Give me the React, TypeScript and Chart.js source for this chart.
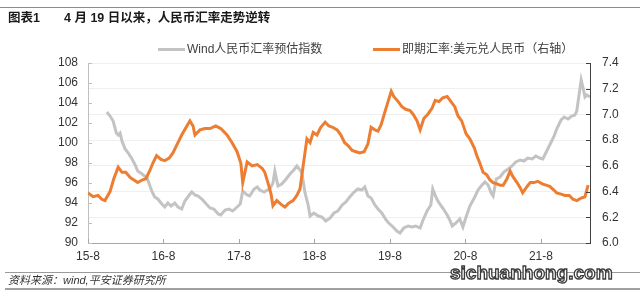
import React, { useEffect, useRef } from "react";
import { Chart, registerables } from "chart.js";

Chart.register(...registerables);

// months since Aug 2015
const xTickValues = [0, 12, 24, 36, 48, 60, 72];
const xTickLabels = ["15-8", "16-8", "17-8", "18-8", "19-8", "20-8", "21-8"];

const indexMonths = [
  3.0, 3.5, 4.0, 4.5, 4.8, 5.1, 5.4, 5.9, 6.4, 7.0,
  7.5, 7.9, 8.6, 9.4, 9.9, 10.2, 10.6, 11.1, 11.6, 12.2,
  12.7, 13.2, 13.8, 14.3, 14.9, 15.4, 16.1, 16.5, 17.0, 17.5,
  18.1, 18.8, 19.4, 20.0, 20.7, 21.1, 21.8, 22.4, 23.0, 23.7,
  24.2, 24.6, 25.3, 25.7, 26.4, 26.9, 27.3, 28.0, 28.5, 28.9,
  29.4, 29.7, 30.2, 30.8, 31.5, 32.1, 32.7, 33.2, 33.7, 34.0,
  34.5, 35.0, 35.3, 35.9, 36.6, 37.2, 37.8, 38.5, 39.1, 39.7,
  40.4, 41.0, 41.6, 42.3, 42.9, 43.5, 44.0, 44.5, 45.0, 45.6,
  46.1, 46.7, 47.4, 47.8, 48.5, 49.1, 49.6, 50.2, 50.9, 51.5,
  52.1, 52.8, 53.2, 53.9, 54.5, 54.8, 55.3, 55.8, 56.4, 57.1,
  57.5, 57.9, 58.5, 59.1, 59.6, 60.1, 60.7, 61.4, 62.0, 62.5,
  63.1, 63.6, 64.1, 64.4, 64.9, 65.5, 66.1, 66.8, 67.4, 68.0,
  68.7, 69.3, 69.9, 70.6, 71.2, 71.8, 72.3, 73.0, 73.4, 74.1,
  74.5, 75.2, 75.7, 76.3, 76.9, 77.4, 77.7, 78.1, 78.4, 78.7,
  79.0, 79.3, 79.8,
];
const indexValues = [
  103.1, 102.7, 102.2, 101.0, 100.8, 101.0, 100.2, 99.4, 99.0, 98.4,
  97.8, 97.2, 96.9, 96.5, 95.6, 95.1, 94.6, 94.4, 94.0, 93.6,
  94.0, 93.7, 94.0, 93.6, 93.4, 94.2, 94.8, 95.1, 94.8, 94.7,
  94.4, 93.9, 93.5, 93.4, 92.9, 92.8, 93.3, 93.4, 93.2, 93.6,
  93.9, 95.2, 94.8, 94.7, 95.4, 95.6, 95.3, 95.1, 95.3, 95.4,
  96.0, 97.2, 95.7, 95.9, 96.4, 96.9, 97.3, 97.7, 97.3, 97.0,
  95.0, 93.8, 92.7, 93.0, 92.7, 92.6, 92.2, 92.5, 93.0, 93.2,
  93.8, 94.1, 94.6, 95.1, 95.4, 95.3, 95.6, 94.7, 94.5, 93.8,
  93.4, 93.0, 92.3, 92.0, 91.6, 91.2, 91.0, 91.5, 91.7, 91.6,
  91.7, 91.5, 92.2, 93.2, 93.8, 95.4, 94.6, 94.0, 93.5, 92.8,
  92.3, 91.7, 92.0, 92.4, 91.6, 92.6, 93.7, 94.5, 95.3, 95.7,
  96.1, 95.8, 95.0, 94.7, 96.4, 96.6, 97.1, 97.4, 97.7, 98.1,
  98.3, 98.2, 98.5, 98.4, 98.7, 98.5, 98.4, 99.3, 99.8, 100.7,
  101.4, 102.3, 102.6, 102.4, 102.7, 102.8, 103.2, 105.0, 106.3, 105.5,
  104.6, 104.8, 104.6,
];

const spotMonths = [
  0, 0.8, 1.6, 2.2, 2.7, 3.5, 4.1, 4.8, 5.4, 6.0,
  6.7, 7.3, 7.9, 8.6, 9.2, 9.8, 10.3, 10.9, 11.6, 12.2,
  12.9, 13.5, 14.3, 14.9, 15.6, 16.2, 16.7, 17.0, 17.8, 18.6,
  19.4, 20.3, 21.1, 22.1, 22.9, 23.7, 24.3, 24.6, 25.3, 26.1,
  26.9, 27.7, 28.1, 28.6, 29.1, 29.4, 30.0, 30.7, 31.3, 31.9,
  32.6, 33.2, 33.7, 34.2, 34.8, 35.3, 35.8, 36.4, 37.0, 37.7,
  38.3, 38.9, 39.6, 40.2, 40.8, 41.3, 42.0, 42.6, 43.2, 43.9,
  44.5, 45.0, 45.6, 46.1, 46.6, 47.2, 47.7, 48.2, 48.6, 49.3,
  49.9, 50.5, 51.2, 51.7, 52.3, 52.8, 53.4, 54.0, 54.7, 55.2,
  55.8, 56.4, 57.1, 57.7, 58.3, 58.8, 59.4, 60.1, 60.7, 61.4,
  61.8, 62.3, 62.8, 63.4, 63.9, 64.4, 65.0, 65.5, 66.0, 66.6,
  67.1, 67.5, 68.2, 68.7, 69.1, 69.8, 70.3, 70.9, 71.5, 72.2,
  72.8, 73.4, 74.1, 74.5, 75.2, 75.8, 76.5, 77.1, 77.7, 78.4,
  79.0, 79.5,
];
const spotRates = [
  6.39, 6.36, 6.37, 6.34, 6.33, 6.40, 6.50, 6.59, 6.55, 6.55,
  6.51, 6.49, 6.47, 6.49, 6.50, 6.56, 6.62, 6.68, 6.65, 6.64,
  6.66, 6.70, 6.78, 6.84, 6.90, 6.95, 6.91, 6.84, 6.88, 6.89,
  6.89, 6.91, 6.89, 6.84, 6.78, 6.71, 6.62, 6.47, 6.63, 6.60,
  6.61, 6.58, 6.55, 6.47, 6.38, 6.29, 6.33, 6.30, 6.28, 6.31,
  6.33, 6.37, 6.42, 6.60, 6.81, 6.78, 6.86, 6.84, 6.90, 6.94,
  6.91, 6.90, 6.88, 6.84, 6.78, 6.76, 6.72, 6.71, 6.70, 6.71,
  6.77, 6.90, 6.88, 6.87, 6.92, 7.02, 7.10, 7.18, 7.14, 7.10,
  7.06, 7.04, 7.03, 7.00, 6.95, 6.88, 6.97, 7.00, 7.05, 7.11,
  7.10, 7.13, 7.14, 7.10, 7.06, 6.99, 6.95, 6.85, 6.81, 6.74,
  6.68, 6.62, 6.55, 6.53, 6.49, 6.47, 6.46, 6.45, 6.45, 6.50,
  6.56, 6.52, 6.47, 6.43, 6.39, 6.44, 6.47, 6.47, 6.48, 6.46,
  6.45, 6.44, 6.41, 6.39, 6.38, 6.37, 6.37, 6.34, 6.33, 6.35,
  6.36, 6.45,
];

const indexLabel = "Wind人民币汇率预估指数";
const spotLabel = "即期汇率:美元兑人民币（右轴）";

const FONT = "'Liberation Sans', Arial, 'Noto Sans CJK SC', sans-serif";
const GRAY = "#c3c3c3";
const ORANGE = "#ED7D31";

const inwardTicks = {
  id: "inwardTicks",
  afterDraw(chart: any) {
    const { ctx, chartArea, scales } = chart;
    const { left, right, bottom } = chartArea;
    ctx.save();
    ctx.lineWidth = 1;
    ctx.strokeStyle = "#bfbfbf";
    scales.y.ticks.forEach((t: any) => {
      const py = Math.round(scales.y.getPixelForValue(t.value)) + 0.5;
      ctx.beginPath();
      ctx.moveTo(left, py);
      ctx.lineTo(left + 4, py);
      ctx.stroke();
    });
    ctx.strokeStyle = "#404040";
    scales.y1.ticks.forEach((t: any) => {
      const py = Math.round(scales.y1.getPixelForValue(t.value)) + 0.5;
      ctx.beginPath();
      ctx.moveTo(right - 4, py);
      ctx.lineTo(right, py);
      ctx.stroke();
    });
    ctx.strokeStyle = "#a6a6a6";
    scales.x.ticks.forEach((t: any) => {
      const px = Math.round(scales.x.getPixelForValue(t.value)) + 0.5;
      ctx.beginPath();
      ctx.moveTo(px, bottom - 4);
      ctx.lineTo(px, bottom);
      ctx.stroke();
    });
    ctx.restore();
  },
};

export default function App() {
  const ref = useRef<HTMLCanvasElement | null>(null);

  useEffect(() => {
    if (!ref.current) return;
    const chart = new Chart(ref.current, {
      type: "line",
      data: {
        datasets: [
          {
            label: indexLabel,
            data: indexMonths.map((m, i) => ({ x: m, y: indexValues[i] })),
            borderColor: GRAY,
            backgroundColor: GRAY,
            borderWidth: 3,
            pointRadius: 0,
            tension: 0,
            yAxisID: "y",
            order: 1,
          },
          {
            label: spotLabel,
            data: spotMonths.map((m, i) => ({ x: m, y: spotRates[i] })),
            borderColor: ORANGE,
            backgroundColor: ORANGE,
            borderWidth: 3,
            pointRadius: 0,
            tension: 0,
            yAxisID: "y1",
            order: 0,
          },
        ],
      },
      options: {
        animation: false,
        responsive: false,
        devicePixelRatio: 1,
        layout: { padding: { top: 63, left: 0, right: 0, bottom: 0 } },
        plugins: {
          legend: { display: false },
          tooltip: { enabled: false },
          title: { display: false },
        },
        scales: {
          x: {
            type: "linear",
            min: 0,
            max: 79.8,
            afterBuildTicks: (s: any) => {
              s.ticks = xTickValues.map((v) => ({ value: v }));
            },
            afterFit: (s: any) => {
              s.height = 52;
            },
            ticks: {
              autoSkip: false,
              maxRotation: 0,
              padding: 6,
              color: "#333333",
              font: { family: FONT, size: 12 },
              callback: (v: any) => {
                const i = xTickValues.indexOf(Number(v));
                return i >= 0 ? xTickLabels[i] : "";
              },
            },
            grid: { display: true, color: "rgba(0,0,0,0)", drawTicks: false },
            border: { display: true, color: "#a6a6a6", width: 1 },
          },
          y: {
            type: "linear",
            position: "left",
            min: 90,
            max: 108,
            afterFit: (s: any) => {
              s.width = 88;
            },
            ticks: {
              stepSize: 2,
              padding: 10,
              color: "#333333",
              font: { family: FONT, size: 12 },
            },
            grid: { display: true, color: "rgba(0,0,0,0)", drawTicks: false },
            border: { display: true, color: "#bfbfbf", width: 1 },
          },
          y1: {
            type: "linear",
            position: "right",
            min: 6.0,
            max: 7.4,
            afterFit: (s: any) => {
              s.width = 50;
            },
            ticks: {
              stepSize: 0.2,
              padding: 12,
              color: "#333333",
              font: { family: FONT, size: 12 },
              callback: (v: any) => Number(v).toFixed(1),
            },
            grid: { display: true, color: "#efefef", drawTicks: false },
            border: { display: true, color: "#404040", width: 1 },
          },
        },
      },
      plugins: [inwardTicks],
    });
    return () => chart.destroy();
  }, []);

  const abs = (s: React.CSSProperties): React.CSSProperties => ({ position: "absolute", ...s });

  return (
    <div
      style={{
        position: "absolute",
        left: 0,
        top: 0,
        width: 640,
        height: 295,
        background: "#ffffff",
        overflow: "hidden",
        fontFamily: FONT,
      }}
    >
      <canvas ref={ref} width={640} height={295} style={abs({ left: 0, top: 0, width: 640, height: 295 })} />
      <div style={abs({ left: 0, top: 7, width: 640, height: 1, background: "#8c8c8c" })} />
      <div style={abs({ left: 8, top: 11, fontSize: 12.5, lineHeight: "15px", fontWeight: 700, color: "#1a1a1a", whiteSpace: "nowrap" })}>
        图表1
      </div>
      <div style={abs({ left: 64, top: 11, fontSize: 12.5, lineHeight: "15px", fontWeight: 700, color: "#1a1a1a", whiteSpace: "nowrap" })}>
        4 月 19 日以来，人民币汇率走势逆转
      </div>

      <div style={abs({ left: 158, top: 48, width: 27, height: 3, background: GRAY })} />
      <div style={abs({ left: 187, top: 42, fontSize: 12, lineHeight: "14px", color: "#404040", whiteSpace: "nowrap" })}>
        {indexLabel}
      </div>
      <div style={abs({ left: 373, top: 48, width: 27, height: 3, background: ORANGE })} />
      <div style={abs({ left: 402, top: 42, fontSize: 12, lineHeight: "14px", color: "#404040", whiteSpace: "nowrap" })}>
        {spotLabel}
      </div>

      <div style={abs({ left: 5, top: 272, width: 635, height: 1, background: "#9a9a9a" })} />
      <div style={abs({ left: 8, top: 274, fontSize: 11, lineHeight: "13px", fontStyle: "italic", color: "#333333", whiteSpace: "nowrap" })}>
        资料来源：wind,平安证券研究所
      </div>
      <div style={abs({ left: 5, top: 288, width: 635, height: 2, background: "#a0a0a0" })} />
      <div
        style={abs({
          left: 450,
          top: 262,
          fontSize: 19,
          lineHeight: "22px",
          fontWeight: 700,
          color: "#ffffff",
          WebkitTextStroke: "1.3px #3a3a3a",
          whiteSpace: "nowrap",
          letterSpacing: 0,
        })}
      >
        sichuanhong.com
      </div>
    </div>
  );
}
